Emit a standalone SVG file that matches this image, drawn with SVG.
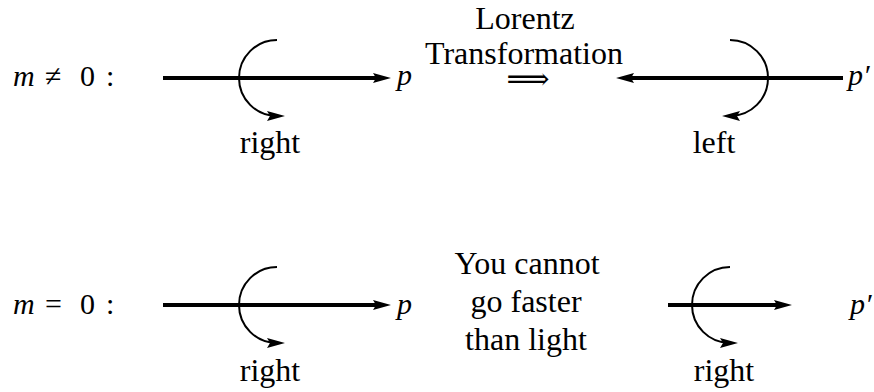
<svg xmlns="http://www.w3.org/2000/svg" width="874" height="392" viewBox="0 0 874 392">
<defs>
<marker id="ah" markerUnits="userSpaceOnUse" markerWidth="18" markerHeight="10" refX="10" refY="5" orient="auto" overflow="visible">
<path d="M0,0 L18,5 L0,10 L3,5 z" fill="#000"/>
</marker>
</defs>
<g id="connectors" fill="none" stroke="#000" marker-end="url(#ah)">
<g stroke-width="4">
<line x1="163" y1="78" x2="383" y2="78"/>
<line x1="843" y1="78" x2="624" y2="78"/>
<line x1="163" y1="305" x2="383" y2="305"/>
<line x1="668" y1="305" x2="784" y2="305"/>
</g>
<g stroke-width="2">
<path d="M277,40 A38,38 0 0 0 277,116"/>
<path d="M730,40 A38,38 0 0 1 730,116"/>
<path d="M277,267 A38,38 0 0 0 277,343"/>
<path d="M730,267 A38,38 0 0 0 730,343"/>
</g>
</g>
<g id="label-m-neq">
<text y="86" font-family="Liberation Serif" font-size="30"><tspan font-style="italic" x="13">m</tspan><tspan x="45">&#8800;</tspan><tspan x="80">0</tspan><tspan x="106">:</tspan></text>
</g>
<g id="label-m-eq">
<text y="314" font-family="Liberation Serif" font-size="30"><tspan font-style="italic" x="13">m</tspan><tspan x="45">=</tspan><tspan x="80">0</tspan><tspan x="106">:</tspan></text>
</g>
<g id="p-top"><text x="397" y="85" font-family="Liberation Serif" font-size="30" font-style="italic">p</text></g>
<g id="pprime-top"><text x="848" y="85" font-family="Liberation Serif" font-size="30" font-style="italic">p&#8242;</text></g>
<g id="p-bottom"><text x="397" y="314" font-family="Liberation Serif" font-size="30" font-style="italic">p</text></g>
<g id="pprime-bottom"><text x="850" y="314" font-family="Liberation Serif" font-size="30" font-style="italic">p&#8242;</text></g>
<g id="right-top"><text x="270" y="153" font-family="Liberation Serif" font-size="32" text-anchor="middle">right</text></g>
<g id="left-top"><text x="714" y="153" font-family="Liberation Serif" font-size="32" text-anchor="middle">left</text></g>
<g id="right-bottom-left"><text x="270" y="381" font-family="Liberation Serif" font-size="32" text-anchor="middle">right</text></g>
<g id="right-bottom-right"><text x="724" y="381" font-family="Liberation Serif" font-size="32" text-anchor="middle">right</text></g>
<g id="lorentz">
<text x="525" y="29" font-family="Liberation Serif" font-size="32" text-anchor="middle">Lorentz</text>
<text x="524" y="64" font-family="Liberation Serif" font-size="32" text-anchor="middle">Transformation</text>
<text x="528" y="89" font-family="DejaVu Serif" font-size="30" text-anchor="middle">&#10233;</text>
</g>
<g id="cannot">
<text x="527" y="274" font-family="Liberation Serif" font-size="32" text-anchor="middle">You cannot</text>
<text x="526" y="312" font-family="Liberation Serif" font-size="32" text-anchor="middle">go faster</text>
<text x="526" y="350" font-family="Liberation Serif" font-size="32" text-anchor="middle">than light</text>
</g>
</svg>
